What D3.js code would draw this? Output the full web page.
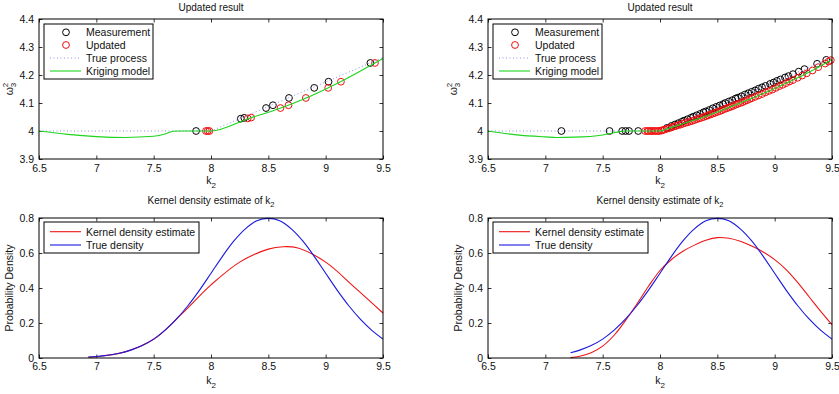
<!DOCTYPE html>
<html><head><meta charset="utf-8">
<script src="https://cdn.jsdelivr.net/npm/d3@7"></script>
<style>
html,body{margin:0;padding:0;background:#fff;}
svg{display:block;font-family:"Liberation Sans",Arial,Helvetica,sans-serif;}
</style></head>
<body>
<svg id="chart" width="839" height="394"></svg>
<script>
// ---------------- data ----------------
const xTicks = [6.5, 7, 7.5, 8, 8.5, 9, 9.5];
const yTicksTop = [3.9, 4, 4.1, 4.2, 4.3, 4.4];
const yTicksBottom = [0, 0.2, 0.4, 0.6, 0.8];

// Top-left: measurements and updated points
const measLeftK = [7.87, 8.26, 8.29, 8.48, 8.54, 8.68, 8.90, 9.025, 9.39];
const measLeftW = [4.000, 4.044, 4.047, 4.082, 4.092, 4.118, 4.154, 4.176, 4.243];
const updLeftK = [7.956, 7.971, 7.986, 8.32, 8.35, 8.606, 8.676, 8.827, 9.022, 9.133, 9.43];
const updLeftW = [4.000, 4.000, 4.000, 4.045, 4.048, 4.082, 4.092, 4.118, 4.154, 4.176, 4.243];

// True process (both top panels)
const trueK = [6.5, 8.0, 9.5];
const trueW = [4.0, 4.0, 4.2625];

// Kriging model, top-left
const krigLeftK = [6.5, 6.75, 7.0, 7.25, 7.5, 7.6, 7.67, 7.75, 8.0, 8.33, 8.61, 8.83, 9.02, 9.13, 9.43, 9.5];
const krigLeftW = [4.0, 3.988, 3.980, 3.977, 3.981, 3.989, 3.999, 4.0, 4.0, 4.045, 4.082, 4.118, 4.154, 4.176, 4.243, 4.259];

// Top-right: measurements
const measRightK = [7.14, 7.56, 7.67, 7.70, 7.73, 7.81,
  8.06, 8.10, 8.13, 8.16, 8.19, 8.21, 8.24, 8.27, 8.29, 8.32, 8.35, 8.38, 8.40, 8.43,
  8.46, 8.49, 8.52, 8.55, 8.57, 8.60, 8.63, 8.66, 8.68, 8.71, 8.74, 8.77, 8.80, 8.83,
  8.86, 8.89, 8.92, 8.96, 8.99, 9.02, 9.05, 9.09, 9.12, 9.16, 9.21, 9.26, 9.37, 9.45];
const measRightW = [4.0, 4.0, 4.0, 4.0, 4.0, 4.0,
  4.011, 4.018, 4.023, 4.028, 4.033, 4.037, 4.042, 4.047, 4.051, 4.056, 4.061, 4.067, 4.070, 4.075,
  4.081, 4.086, 4.091, 4.096, 4.100, 4.105, 4.110, 4.116, 4.119, 4.124, 4.130, 4.135, 4.140, 4.145,
  4.151, 4.156, 4.161, 4.168, 4.173, 4.179, 4.184, 4.191, 4.196, 4.203, 4.212, 4.221, 4.240, 4.254];

// Top-right: updated
const updRightK = [7.87, 7.89, 7.90, 7.92, 7.93, 7.95, 7.96, 7.98, 7.99, 8.01, 8.02,
  8.04, 8.06, 8.08, 8.10, 8.12, 8.14, 8.16, 8.18, 8.20, 8.22, 8.24, 8.26, 8.28, 8.30,
  8.32, 8.34, 8.36, 8.38, 8.40, 8.42, 8.44, 8.46, 8.48, 8.50, 8.52, 8.54, 8.56, 8.58,
  8.60, 8.62, 8.64, 8.66, 8.68, 8.70, 8.72, 8.74, 8.76, 8.78, 8.80, 8.83, 8.86, 8.89,
  8.92, 8.95, 8.98, 9.01, 9.04, 9.07, 9.10, 9.13, 9.16, 9.20, 9.24, 9.28, 9.33, 9.38,
  9.44, 9.47, 9.49];
const updRightW = [4.0, 4.0, 4.0, 4.0, 4.0, 4.0, 4.0, 4.0, 4.0, 4.001, 4.003,
  4.005, 4.008, 4.010, 4.013, 4.016, 4.018, 4.021, 4.023, 4.026, 4.029, 4.031, 4.034, 4.036, 4.039,
  4.042, 4.045, 4.047, 4.050, 4.053, 4.056, 4.059, 4.062, 4.065, 4.068, 4.071, 4.074, 4.078, 4.081,
  4.084, 4.087, 4.090, 4.094, 4.097, 4.100, 4.103, 4.107, 4.110, 4.114, 4.117, 4.122, 4.127, 4.132,
  4.138, 4.143, 4.148, 4.154, 4.160, 4.165, 4.171, 4.177, 4.182, 4.190, 4.198, 4.206, 4.216, 4.228,
  4.241, 4.248, 4.253];

// Kriging model, top-right
const krigRightK = [6.5, 6.75, 7.0, 7.1, 7.25, 7.5, 7.6, 7.7, 8.0, 8.1, 8.2, 8.3, 8.4, 8.5, 8.6, 8.7, 8.8, 8.9, 9.0, 9.1, 9.2, 9.3, 9.4, 9.5];
const krigRightW = [4.0, 3.986, 3.979, 3.977, 3.978, 3.986, 3.994, 4.0, 4.0, 4.013, 4.026, 4.039, 4.053, 4.068, 4.084, 4.100, 4.117, 4.134, 4.152, 4.171, 4.190, 4.210, 4.232, 4.255];

// Bottom-left: densities
const kdeLeftK = [6.93, 7.0, 7.25, 7.5, 7.75, 8.0, 8.25, 8.5, 8.63, 8.75, 9.0, 9.25, 9.5];
const kdeLeftP = [0.004, 0.007, 0.035, 0.107, 0.255, 0.418, 0.548, 0.622, 0.636, 0.630, 0.548, 0.405, 0.257];
const trueLeftK = [6.93, 7.0, 7.1, 7.2, 7.3, 7.4, 7.5, 7.6, 7.7, 7.8, 7.9, 8.0, 8.1, 8.2, 8.3, 8.4, 8.5, 8.6, 8.7, 8.8, 8.9, 9.0, 9.1, 9.2, 9.3, 9.4, 9.5];
const trueLeftP = [0.006, 0.009, 0.016, 0.027, 0.045, 0.071, 0.108, 0.159, 0.223, 0.300, 0.388, 0.484, 0.581, 0.669, 0.738, 0.784, 0.798, 0.784, 0.738, 0.669, 0.581, 0.484, 0.388, 0.300, 0.223, 0.159, 0.108];

// Bottom-right: densities
const kdeRightK = [7.22, 7.3, 7.4, 7.5, 7.6, 7.7, 7.8, 7.9, 8.0, 8.1, 8.2, 8.3, 8.4, 8.5, 8.6, 8.7, 8.8, 8.9, 9.0, 9.1, 9.2, 9.3, 9.4, 9.5];
const kdeRightP = [0.002, 0.010, 0.030, 0.068, 0.130, 0.215, 0.310, 0.410, 0.500, 0.563, 0.610, 0.645, 0.673, 0.688, 0.684, 0.667, 0.640, 0.606, 0.562, 0.505, 0.432, 0.350, 0.268, 0.190];
const trueRightK = [7.22, 7.3, 7.4, 7.5, 7.6, 7.7, 7.8, 7.9, 8.0, 8.1, 8.2, 8.3, 8.4, 8.5, 8.6, 8.7, 8.8, 8.9, 9.0, 9.1, 9.2, 9.3, 9.4, 9.5];
const trueRightP = [0.030, 0.045, 0.071, 0.108, 0.159, 0.223, 0.300, 0.388, 0.484, 0.581, 0.669, 0.738, 0.784, 0.798, 0.784, 0.738, 0.669, 0.581, 0.484, 0.388, 0.300, 0.223, 0.159, 0.108];

const legendTop = ["Measurement", "Updated", "True process", "Kriging model"];
const legendBottom = ["Kernel density estimate", "True density"];

// ---------------- styles ----------------
const FONT = 10.5;
const TXT = "#111";
const C_MEAS = "#000", C_UPD = "#f01010", C_TRUE = "#8f8fe8", C_KRIG = "#1ed41e";
const C_KDE = "#ee1515", C_DENS = "#1818e0";

const svg = d3.select("#chart");
const zip = (a, b) => a.map((v, i) => [v, b[i]]);

function panel(box, yDomain, yTicks, yFmt) {
  const g = svg.append("g");
  const x = d3.scaleLinear().domain([6.5, 9.5]).range([box.x0, box.x1]);
  const y = d3.scaleLinear().domain(yDomain).range([box.y1, box.y0]);
  const T = 3.5;
  const ax = [
    g.append("g").attr("transform", `translate(0,${box.y1})`).call(d3.axisBottom(x).tickValues(xTicks).tickSize(-T).tickPadding(box.xpad).tickFormat(d => String(d))),
    g.append("g").attr("transform", `translate(0,${box.y0})`).call(d3.axisTop(x).tickValues(xTicks).tickSize(-T).tickFormat("")),
    g.append("g").attr("transform", `translate(${box.x0},0)`).call(d3.axisLeft(y).tickValues(yTicks).tickSize(-T).tickPadding(box.ypad).tickFormat(yFmt)),
    g.append("g").attr("transform", `translate(${box.x1},0)`).call(d3.axisRight(y).tickValues(yTicks).tickSize(-T).tickFormat(""))
  ];
  ax.forEach(a => {
    a.select(".domain").remove();
    a.selectAll("line").attr("stroke", "#000").attr("stroke-width", 0.8);
    a.selectAll("text").attr("font-size", FONT).attr("fill", TXT).attr("font-family", "Liberation Sans, Arial, sans-serif");
  });
  return {g, x, y};
}

function frame(box) {
  svg.append("rect").attr("x", box.x0).attr("y", box.y0)
    .attr("width", box.x1 - box.x0).attr("height", box.y1 - box.y0)
    .attr("fill", "none").attr("stroke", "#000").attr("stroke-width", 1);
}

function line(p, K, V, color, opts = {}) {
  const gen = d3.line().x(d => p.x(d[0])).y(d => p.y(d[1])).curve(opts.curve || d3.curveMonotoneX);
  p.g.append("path").datum(zip(K, V)).attr("d", gen)
    .attr("fill", "none").attr("stroke", color).attr("stroke-width", opts.w || 1.1)
    .attr("stroke-dasharray", opts.dash || null);
}
function circles(p, K, V, color) {
  p.g.append("g").selectAll("circle").data(zip(K, V)).join("circle")
    .attr("cx", d => p.x(d[0])).attr("cy", d => p.y(d[1])).attr("r", 3.4)
    .attr("fill", "none").attr("stroke", color).attr("stroke-width", 1);
}

function title(cx, yb, parts) {
  const t = svg.append("text").attr("x", cx).attr("y", yb).attr("text-anchor", "middle")
    .attr("font-size", FONT - 0.5).attr("fill", TXT);
  t.append("tspan").text(parts[0]);
  if (parts[1]) t.append("tspan").attr("font-size", 7.5).attr("dy", 3).text(parts[1]);
}

function k2Label(cx, yb) {
  const t = svg.append("text").attr("x", cx).attr("y", yb).attr("text-anchor", "middle")
    .attr("font-size", FONT).attr("fill", TXT);
  t.append("tspan").text("k");
  t.append("tspan").attr("font-size", 8).attr("dy", 3.5).text("2");
}

function omegaLabel(cx, cy) {
  const t = svg.append("text").attr("transform", `translate(${cx},${cy}) rotate(-90)`)
    .attr("text-anchor", "middle").attr("font-size", FONT).attr("fill", TXT);
  t.append("tspan").text("ω");
  t.append("tspan").attr("font-size", 8).attr("dy", 3).text("3");
  t.append("tspan").attr("font-size", 8).attr("dx", -4.5).attr("dy", -8).text("2");
}

function yLabel(cx, cy, txt) {
  svg.append("text").attr("transform", `translate(${cx},${cy}) rotate(-90)`)
    .attr("text-anchor", "middle").attr("font-size", FONT).attr("fill", TXT).text(txt);
}

function legend(bx, by, bw, bh, rows) {
  const g = svg.append("g");
  g.append("rect").attr("x", bx).attr("y", by).attr("width", bw).attr("height", bh)
    .attr("fill", "#fff").attr("stroke", "#000").attr("stroke-width", 1);
  rows.forEach((r, i) => {
    const yy = by + r.y;
    if (r.type === "circle") {
      g.append("circle").attr("cx", bx + 22).attr("cy", yy).attr("r", 3.4)
        .attr("fill", "none").attr("stroke", r.color).attr("stroke-width", 1);
    } else {
      g.append("line").attr("x1", bx + 6).attr("x2", bx + 37).attr("y1", yy).attr("y2", yy)
        .attr("stroke", r.color).attr("stroke-width", 1.1).attr("stroke-dasharray", r.dash || null);
    }
    g.append("text").attr("x", bx + 42).attr("y", yy + 3.8).attr("font-size", FONT)
      .attr("fill", TXT).text(r.label);
  });
}

const fmt = d => String(d);
const boxes = {
  TL: {x0: 39, x1: 383, y0: 19, y1: 159, xpad: 5.5, ypad: 5},
  TR: {x0: 488, x1: 832, y0: 19, y1: 159, xpad: 5.5, ypad: 5},
  BL: {x0: 39, x1: 383, y0: 218, y1: 358, xpad: 4.5, ypad: 5},
  BR: {x0: 488, x1: 832, y0: 218, y1: 358, xpad: 4.5, ypad: 5}
};

// ---- Top-left ----
let p = panel(boxes.TL, [3.9, 4.4], yTicksTop, fmt);
circles(p, measLeftK, measLeftW, C_MEAS);
circles(p, updLeftK, updLeftW, C_UPD);
line(p, trueK, trueW, C_TRUE, {dash: "1,2.5", curve: d3.curveLinear, w: 1});
line(p, krigLeftK, krigLeftW, C_KRIG, {curve: d3.curveMonotoneX});
frame(boxes.TL);

// ---- Top-right ----
p = panel(boxes.TR, [3.9, 4.4], yTicksTop, fmt);
circles(p, measRightK, measRightW, C_MEAS);
circles(p, updRightK, updRightW, C_UPD);
line(p, trueK, trueW, C_TRUE, {dash: "1,2.5", curve: d3.curveLinear, w: 1});
line(p, krigRightK, krigRightW, C_KRIG, {curve: d3.curveMonotoneX});
frame(boxes.TR);

// ---- Bottom-left ----
p = panel(boxes.BL, [0, 0.8], yTicksBottom, fmt);
line(p, kdeLeftK, kdeLeftP, C_KDE, {curve: d3.curveCatmullRom});
line(p, trueLeftK, trueLeftP, C_DENS, {curve: d3.curveCatmullRom});
frame(boxes.BL);

// ---- Bottom-right ----
p = panel(boxes.BR, [0, 0.8], yTicksBottom, fmt);
line(p, kdeRightK, kdeRightP, C_KDE, {curve: d3.curveCatmullRom});
line(p, trueRightK, trueRightP, C_DENS, {curve: d3.curveCatmullRom});
frame(boxes.BR);

// titles and labels
title(211, 11, ["Updated result"]);
title(660, 11, ["Updated result"]);
title(211, 204, ["Kernel density estimate of k", "2"]);
title(660, 204, ["Kernel density estimate of k", "2"]);
k2Label(211, 184);
k2Label(660, 184);
k2Label(211, 384);
k2Label(660, 384);
omegaLabel(13, 89);
omegaLabel(457, 89);
yLabel(13, 288, "Probability Density");
yLabel(462, 288, "Probability Density");

// legends
const topRows = [
  {type: "circle", color: C_MEAS, label: legendTop[0], y: 8.3},
  {type: "circle", color: C_UPD, label: legendTop[1], y: 21},
  {type: "line", color: C_TRUE, dash: "1,2.5", label: legendTop[2], y: 34},
  {type: "line", color: C_KRIG, label: legendTop[3], y: 47}
];
legend(44, 24, 109, 55, topRows);
legend(493, 24, 109, 55, topRows);
const botRows = [
  {type: "line", color: C_KDE, label: legendBottom[0], y: 9.7},
  {type: "line", color: C_DENS, label: legendBottom[1], y: 23}
];
legend(44, 222, 155, 31, botRows);
legend(493, 222, 155, 31, botRows);
</script>
</body></html>
